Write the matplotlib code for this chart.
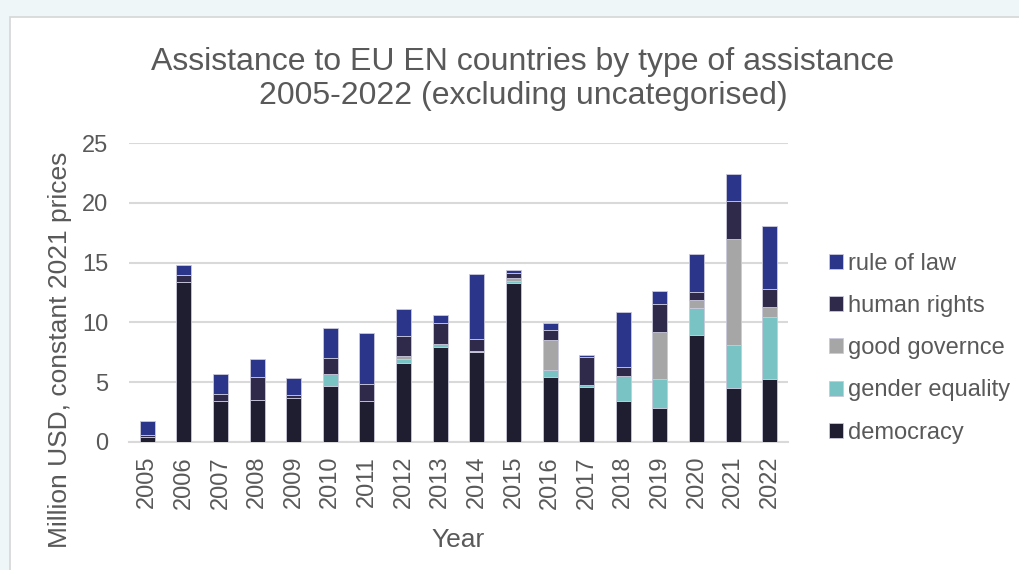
import numpy as np
import matplotlib.pyplot as plt
from matplotlib.patches import Rectangle

plt.rcParams['font.family'] = ['Liberation Sans', 'DejaVu Sans']

years = [str(y) for y in range(2005, 2023)]

# million USD, constant 2021 prices
democracy = [0.42, 13.4, 3.4, 3.55, 3.65, 4.66, 3.44, 6.6, 7.93, 7.55,
             13.3, 5.42, 4.6, 3.44, 2.82, 8.91, 4.5, 5.25]
gender_equality = [0, 0, 0, 0, 0, 1.04, 0, 0.3, 0.23, 0,
                   0.2, 0.6, 0.14, 2.12, 2.43, 2.32, 3.63, 5.22]
good_governance = [0, 0, 0, 0, 0, 0, 0, 0.3, 0, 0.1,
                   0.2, 2.55, 0, 0, 3.97, 0.64, 8.83, 0.81]
human_rights = [0.2, 0.55, 0.6, 1.9, 0.3, 1.34, 1.45, 1.7, 1.76, 1.0,
                0.47, 0.83, 2.37, 0.67, 2.29, 0.7, 3.15, 1.54]
rule_of_law = [1.1, 0.85, 1.7, 1.5, 1.4, 2.51, 4.19, 2.24, 0.7, 5.4,
               0.17, 0.56, 0.2, 4.66, 1.09, 3.18, 2.29, 5.2]

series = [
    ('democracy', democracy, '#1f1d30'),
    ('gender equality', gender_equality, '#7ac3c4'),
    ('good governce', good_governance, '#a6a6a6'),
    ('human rights', human_rights, '#302a4a'),
    ('rule of law', rule_of_law, '#2b3589'),
]

txt = '#595959'
fig = plt.figure(figsize=(10.2, 5.7), dpi=100, facecolor='#eef6f8')
# white chart panel behind everything
fig.patches.append(Rectangle((10 / 1020, -0.1), 1.2, (570 - 17) / 570 + 0.1,
                             transform=fig.transFigure, facecolor='white',
                             edgecolor='#d6d6d6', linewidth=1.2, zorder=-10))

ax = fig.add_axes([129 / 1020, (570 - 442) / 570, (788 - 129) / 1020, (442 - 143) / 570])
ax.set_facecolor('white')

x = np.arange(len(years))
bottom = np.zeros(len(years))
handles = []
for name, vals, col in series:
    v = np.array(vals)
    b = ax.bar(x, v, 0.41, bottom=bottom, color=col, edgecolor='#c9c9dc',
               linewidth=0.6, label=name, zorder=3)
    handles.append(b)
    bottom += v

ax.set_ylim(0, 25)
ax.set_xlim(-0.5, len(years) - 0.5)
ax.set_yticks(range(0, 26, 5))
ax.set_xticks(x)
ax.set_xticklabels(years, rotation=90)
ax.grid(axis='y', color='#d9d9d9', linewidth=1.5, zorder=0)
ax.set_axisbelow(True)
for s in ['top', 'right', 'left']:
    ax.spines[s].set_visible(False)
ax.spines['bottom'].set_color('#d9d9d9')
ax.spines['bottom'].set_linewidth(1.5)
ax.tick_params(axis='both', length=0, colors=txt, labelsize=17)
ax.tick_params(axis='y', pad=15)
ax.tick_params(axis='x', pad=10)

ax.set_xlabel('Year', fontsize=19, color=txt, labelpad=14)
ax.set_ylabel('Million USD, constant 2021 prices', fontsize=19, color=txt)
ax.yaxis.set_label_coords(-0.087, 0.308)

fig.text(523 / 1020, 1 - 79 / 570,
         'Assistance to EU EN countries by type of assistance\n2005-2022 (excluding uncategorised)',
         ha='center', va='center', fontsize=23, color=txt, linespacing=1.17)

leg = ax.legend(handles[::-1], [s[0] for s in series][::-1],
                loc='center left', bbox_to_anchor=(1.062, 0.314), frameon=False,
                fontsize=17, handlelength=0.6, handleheight=0.6,
                handletextpad=0.2, labelspacing=0.86, borderaxespad=0,
                borderpad=0)
for t in leg.get_texts():
    t.set_color(txt)

fig.savefig('out.png', dpi=100, facecolor=fig.get_facecolor())
